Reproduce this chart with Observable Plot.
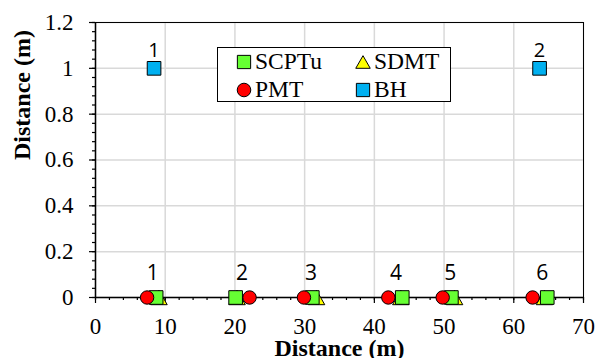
<!DOCTYPE html>
<html>
<head>
<meta charset="utf-8">
<script src="https://cdn.jsdelivr.net/npm/d3@7"></script>
<script src="https://cdn.jsdelivr.net/npm/@observablehq/plot@0.6"></script>
<style>
  html, body { margin: 0; padding: 0; background: #fff; }
  #wrap { position: relative; width: 603px; height: 358px; overflow: hidden; }
  #wrap svg text { font-family: "Liberation Serif", "Times New Roman", Times, serif; }
  #wrap svg g.sans text { font-family: "Open Sans", "Noto Sans", sans-serif; }
  #legend {
    position: absolute; left: 217px; top: 47px; width: 232px; height: 53px;
    border: 1.3px solid #000; background: #fff;
    font-family: "Liberation Serif", "Times New Roman", Times, serif; font-size: 23.5px; color: #000;
  }
  #legend svg, #legend span { position: absolute; }
  #legend span { line-height: 1; white-space: nowrap; }
</style>
</head>
<body>
<div id="wrap"></div>
<script>
// ---- data ----
const scptuX = [8.7, 20.1, 31.1, 44.0, 51.05, 64.8];
const sdmtX  = [9.1, 20.3, 31.7, 43.8, 51.5, 64.4];
const pmtX   = [7.4, 22.1, 29.9, 42.0, 49.8, 62.7];
const bhX    = [8.4, 63.7];
const bhY    = [1, 1];
const bhLabels = ["1", "2"];
const testLabelsX = [8.2, 21.0, 30.9, 43.1, 50.9, 64.1];
const testLabels  = ["1", "2", "3", "4", "5", "6"];
const xMajor = [0, 10, 20, 30, 40, 50, 60, 70];
const xMinor = d3.range(0, 70.001, 2);
const yMajor = [0, 0.2, 0.4, 0.6, 0.8, 1.0, 1.2];
const yMinor = d3.range(0, 1.2001, 0.04);
const seriesNames = ["SCPTu", "SDMT", "PMT", "BH"];

const colors = { SCPTu: "#66ff33", SDMT: "#ffff00", PMT: "#ff0000", BH: "#00b0f0" };

// triangle centred on its bounding box (like the spreadsheet marker)
const boxTriangle = {
  draw(context, size) {
    const r = Math.sqrt(size / Math.PI);
    const hw = r * 1.15;
    context.moveTo(0, -r);
    context.lineTo(hw, r);
    context.lineTo(-hw, r);
    context.closePath();
  }
};

const zeros = a => a.map(x => ({x, y: 0}));
const fmtY = d => String(+d.toFixed(1));

const chart = Plot.plot({
  width: 603,
  height: 358,
  marginLeft: 95,
  marginRight: 20,
  marginTop: 22,
  marginBottom: 61,
  style: { fontSize: "23px", color: "#000", background: "#fff", overflow: "visible" },
  x: { domain: [0, 70] },
  y: { domain: [0, 1.2] },
  marks: [
    Plot.gridX(xMajor, { stroke: "#d9d9d9", strokeOpacity: 1, strokeWidth: 1.5 }),
    Plot.gridY(yMajor, { stroke: "#d9d9d9", strokeOpacity: 1, strokeWidth: 1.5 }),
    Plot.frame({ stroke: "#000", strokeWidth: 1 }),
    Plot.ruleX([0], { stroke: "#000", strokeWidth: 1.5 }),
    Plot.ruleY([0], { stroke: "#000", strokeWidth: 1.5 }),
    Plot.axisX({ ticks: xMinor, tickSize: 3, text: null, label: null, strokeWidth: 1.2 }),
    Plot.axisX({ ticks: xMajor, tickSize: 6, text: null, label: null, strokeWidth: 1.2 }),
    Plot.axisY({ ticks: yMinor, tickSize: 3, text: null, label: null, strokeWidth: 1.2 }),
    Plot.axisY({ ticks: yMajor, tickSize: 6, text: null, label: null, strokeWidth: 1.2 }),
    // tick labels
    Plot.text(xMajor, { x: d => d, frameAnchor: "bottom", dy: 29, lineAnchor: "middle", text: d => String(d), fontSize: 23, fill: "#000" }),
    Plot.text(yMajor, { y: d => d, frameAnchor: "left", dx: -22, textAnchor: "end", lineAnchor: "middle", text: fmtY, fontSize: 23, fill: "#000" }),
    // markers
    Plot.dot(zeros(sdmtX), { x: "x", y: "y", symbol: boxTriangle, r: 7.2, fill: colors.SDMT, stroke: "#000", strokeWidth: 1 }),
    Plot.dot(zeros(scptuX), { x: "x", y: "y", symbol: "square", r: 7.7, fill: colors.SCPTu, stroke: "#000", strokeWidth: 1 }),
    Plot.dot(zeros(pmtX), { x: "x", y: "y", symbol: "circle", r: 6.7, fill: colors.PMT, stroke: "#000", strokeWidth: 1 }),
    Plot.dot(bhX.map((x, i) => ({x, y: bhY[i]})), { x: "x", y: "y", symbol: "square", r: 7.7, fill: colors.BH, stroke: "#000", strokeWidth: 1 }),
    // labels
    Plot.text(bhX.map((x, i) => ({x, y: bhY[i], t: bhLabels[i]})), { x: "x", y: "y", text: "t", dy: -18, fontSize: 20, fill: "#000", className: "sans" }),
    Plot.text(testLabelsX.map((x, i) => ({x, y: 0, t: testLabels[i]})), { x: "x", y: "y", text: "t", dy: -24, fontSize: 21, fill: "#000", className: "sans" }),
    // axis titles
    Plot.text(["Distance (m)"], { frameAnchor: "bottom", dy: 58, text: d => d, fontWeight: "bold", fontSize: 24, fill: "#000" }),
    Plot.text(["Distance (m)"], { frameAnchor: "left", dx: -73, rotate: -90, text: d => d, fontWeight: "bold", fontSize: 24, fill: "#000" })
  ]
});

const wrap = document.getElementById("wrap");
wrap.appendChild(chart);

// legend (positions relative to legend box, which sits at 217,47)
const legendItems = [
  { name: seriesNames[0], symbol: d3.symbolSquare, size: 176, color: colors.SCPTu, cx: 26, cy: 14 },
  { name: seriesNames[1], symbol: boxTriangle, size: 125, color: colors.SDMT, cx: 145, cy: 14 },
  { name: seriesNames[2], symbol: d3.symbolCircle, size: 145, color: colors.PMT, cx: 26, cy: 42 },
  { name: seriesNames[3], symbol: d3.symbolSquare, size: 176, color: colors.BH, cx: 145, cy: 42 }
];
const legend = document.createElement("div");
legend.id = "legend";
for (const it of legendItems) {
  const path = d3.symbol(it.symbol, it.size)();
  const svg = document.createElementNS("http://www.w3.org/2000/svg", "svg");
  svg.setAttribute("width", 20); svg.setAttribute("height", 20);
  svg.setAttribute("viewBox", "-10 -10 20 20");
  svg.style.left = (it.cx - 10) + "px";
  svg.style.top = (it.cy - 10) + "px";
  svg.innerHTML = `<path d="${path}" fill="${it.color}" stroke="#000" stroke-width="1"/>`;
  legend.appendChild(svg);
  const span = document.createElement("span");
  span.textContent = it.name;
  span.style.left = (it.cx + 11) + "px";
  span.style.top = (it.cy - 12) + "px";
  legend.appendChild(span);
}
wrap.appendChild(legend);
</script>
</body>
</html>
